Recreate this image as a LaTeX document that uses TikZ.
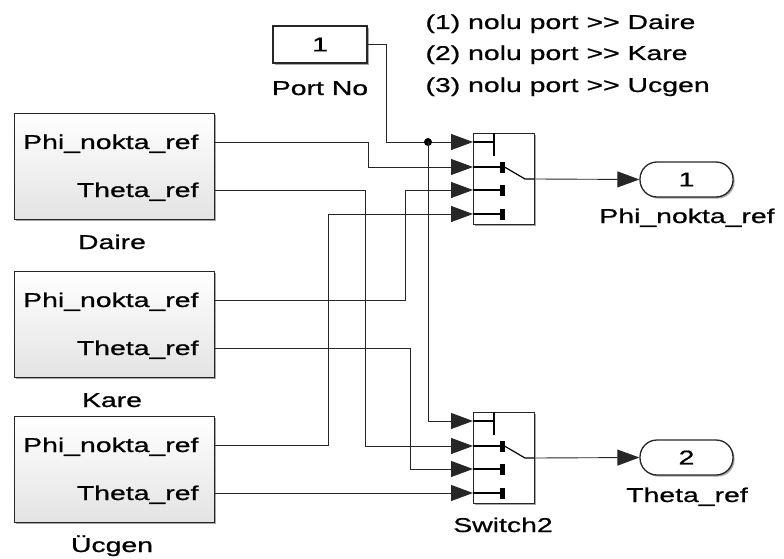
\documentclass[tikz,border=0pt]{standalone}
\usepackage{fontspec}
\setmainfont{Liberation Sans}[FakeStretch=1.42,FakeBold=0.8]
\usetikzlibrary{arrows.meta,shadows,calc}
\begin{document}
\begin{tikzpicture}[x=1pt,y=-1pt,
  font=\fontsize{20}{24}\selectfont,
  wire/.style={draw=black!85, line width=0.9pt},
  arr/.style={wire, -{Triangle[length=22pt,width=16pt]}},
  shad/.style={drop shadow={shadow xshift=1.6pt,shadow yshift=-1.6pt,fill=black,opacity=0.35}},
  subsys/.style={draw=black!85, line width=1.4pt, top color=white, bottom color=gray!22, shad,
     minimum width=200pt, minimum height=106pt, anchor=north west, inner sep=0pt},
  swbox/.style={draw=black!85, line width=1.3pt, fill=white, shad,
     minimum width=61pt, minimum height=91pt, anchor=north west, inner sep=0pt},
  constbox/.style={draw=black!85, line width=1.4pt, fill=white, shad,
     minimum width=94pt, minimum height=37pt, inner sep=0pt},
  outport/.style={draw=black!85, line width=1.3pt, fill=white, shad, rounded corners=17pt,
     minimum width=93pt, minimum height=35pt, inner sep=0pt},
  plabel/.style={anchor=base east},
  blabel/.style={anchor=base},
  inner/.style={draw=black, line width=1.2pt}
]
\useasboundingbox (0,0) rectangle (784,559);

% ---------- annotation ----------
\node[anchor=base west] (ann1) at (422,29) {(1) nolu port >{}> Daire};
\node[anchor=base west] (ann2) at (422,60) {(2) nolu port >{}> Kare};
\node[anchor=base west] (ann3) at (422,92) {(3) nolu port >{}> Ucgen};

% ---------- Port No ----------
\node[constbox] (portno) at (320,44.5) {1};
\node[blabel] (portnolbl) at (320,95) {Port No};

% ---------- subsystems ----------
\node[subsys] (daire) at (14,113) {};
\node[plabel] (daireP) at (202,149) {Phi\_nokta\_ref};
\node[plabel] (daireT) at (202,197) {Theta\_ref};
\node[blabel] (dairelbl) at (112,249) {Daire};

\node[subsys] (kare) at (14,271) {};
\node[plabel] (kareP) at (202,307) {Phi\_nokta\_ref};
\node[plabel] (kareT) at (202,355) {Theta\_ref};
\node[blabel] (karelbl) at (112,407) {Kare};

\node[subsys] (ucgen) at (14,416) {};
\node[plabel] (ucgenP) at (202,452) {Phi\_nokta\_ref};
\node[plabel] (ucgenT) at (202,500) {Theta\_ref};
\node[blabel] (ucgenlbl) at (112,552) {Ücgen};

% ---------- switches ----------
\node[swbox] (sw1) at (473,133) {};
\node[swbox] (sw2) at (473,412) {};
\node[blabel] (sw2lbl) at (503,532) {Switch2};

\foreach \s in {sw1,sw2}{
  \begin{scope}[shift={(\s.north west)}]
    \draw[inner] (0,9) -- (21,9);
    \draw[inner] (21,0) -- (21,23);
    \foreach \yy in {34,57,81}{
      \draw[inner] (0,\yy) -- (27,\yy);
      \fill (27,\yy-5.5) rectangle (31.5,\yy+5.5);
    }
    \draw[inner] (31.5,34) -- (52,46) -- (61,46);
  \end{scope}
}

% ---------- outports ----------
\node[outport] (out1) at (686.5,179.5) {1};
\node[blabel] (out1lbl) at (687,223) {Phi\_nokta\_ref};
\node[outport] (out2) at (686.5,457.5) {2};
\node[blabel] (out2lbl) at (687,502) {Theta\_ref};

% ---------- port coordinates ----------
\foreach \s in {sw1,sw2}{
  \coordinate (\s-1) at ($(\s.north west)+(0,9)$);
  \coordinate (\s-2) at ($(\s.north west)+(0,34)$);
  \coordinate (\s-3) at ($(\s.north west)+(0,57)$);
  \coordinate (\s-4) at ($(\s.north west)+(0,81)$);
  \coordinate (\s-o) at ($(\s.north east)+(0,46)$);
}
\foreach \b in {daire,kare,ucgen}{
  \coordinate (\b-p) at ($(\b.north east)+(0,29)$);
  \coordinate (\b-t) at ($(\b.north east)+(0,77)$);
}
\coordinate (j) at (428,142);

% ---------- connectors ----------
\draw[arr] (portno.east) -| (386,142) -- (sw1-1);
\fill (j) circle[radius=4pt];
\draw[arr] (j) |- (sw2-1);

\draw[arr] (daire-p) -| (368,167) -- (sw1-2);
\draw[arr] (daire-t) -| (365,446) -- (sw2-2);
\draw[arr] (kare-p) -| (405,190) -- (sw1-3);
\draw[arr] (kare-t) -| (410,469) -- (sw2-3);
\draw[arr] (ucgen-p) -| (328,214) -- (sw1-4);
\draw[arr] (ucgen-t) -- (sw2-4);

\draw[arr] (sw1-o) -- (out1.west);
\draw[arr] (sw2-o) -- (out2.west);
\end{tikzpicture}
\end{document}
